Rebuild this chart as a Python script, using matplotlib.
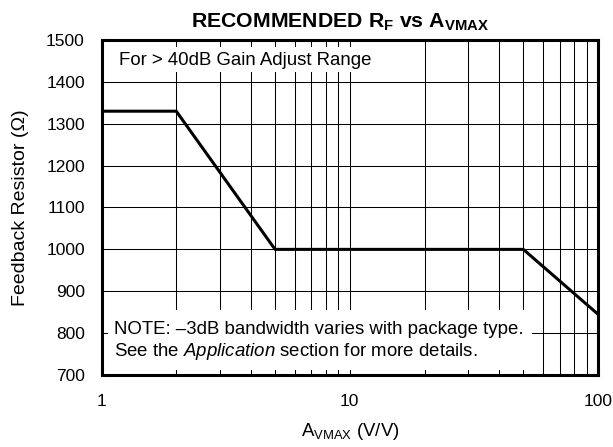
import matplotlib.pyplot as plt
from matplotlib.patches import Rectangle
from matplotlib.ticker import FixedLocator, NullFormatter

plt.rcParams['font.family'] = ['Liberation Sans', 'DejaVu Sans']
plt.rcParams['mathtext.fontset'] = 'custom'
plt.rcParams['mathtext.rm'] = 'Liberation Sans'
plt.rcParams['mathtext.it'] = 'Liberation Sans:italic'
plt.rcParams['mathtext.bf'] = 'Liberation Sans:bold'

#==============================

gain = [1, 2, 5, 50, 100]            # A_VMAX (V/V)
rf = [1330, 1330, 1000, 1000, 845]   # feedback resistor (ohm)

y_ticks = [700, 800, 900, 1000, 1100, 1200, 1300, 1400, 1500]
x_ticks = [1, 10, 100]
x_labels = ['1', '10', '100']
x_minor = [2, 3, 4, 5, 6, 7, 8, 9, 20, 30, 40, 50, 60, 70, 80, 90]

#==============================

fig = plt.figure(figsize=(6.13, 4.47), dpi=100)
ax = fig.add_axes([0.1656, 0.1611, 0.810, 0.7494])

ax.set_xscale('log')
ax.set_xlim(1, 100)
ax.set_ylim(700, 1500)

ax.set_xticks(x_ticks)
ax.set_xticklabels(x_labels)
ax.xaxis.set_minor_locator(FixedLocator(x_minor))
ax.xaxis.set_minor_formatter(NullFormatter())
ax.set_yticks(y_ticks)

ax.grid(True, which='both', axis='x', color='black', lw=0.75)
ax.grid(True, which='major', axis='y', color='black', lw=0.75)
ax.tick_params(which='both', length=0, labelsize=12.5)
ax.tick_params(axis='x', pad=14)
ax.tick_params(axis='y', pad=12)

ax.plot(gain, rf, color='black', lw=2.2, zorder=5)

for s in ax.spines.values():
    s.set_linewidth(2.2)
    s.set_zorder(6)

# white boxes behind the notes
ax.add_patch(Rectangle((0, 0.904), 0.631, 0.075, transform=ax.transAxes,
                       facecolor='white', edgecolor='none', zorder=3))
ax.add_patch(Rectangle((0.013, 0.015), 0.854, 0.179, transform=ax.transAxes,
                       facecolor='white', edgecolor='none', zorder=3))

ax.text(0.035, 0.940, 'For > 40dB Gain Adjust Range', transform=ax.transAxes,
        fontsize=13.4, va='center', ha='left', zorder=4)
ax.text(0.025, 0.137, 'NOTE: \u20133dB bandwidth varies with package type.',
        transform=ax.transAxes, fontsize=13.4, va='center', ha='left', zorder=4)
ax.text(0.025, 0.069, 'See the $\\mathit{Application}$ section for more details.',
        transform=ax.transAxes, fontsize=13.4, va='center', ha='left', zorder=4)

ax.set_title('RECOMMENDED R$_\\mathbf{F}$ vs A$_\\mathbf{VMAX}$', fontsize=15.3,
             fontweight='bold', pad=9, x=0.48)
ax.set_xlabel('A$_\\mathrm{VMAX}$ (V/V)', fontsize=13.4, labelpad=8)
ax.set_ylabel('Feedback Resistor (\u03a9)', fontsize=14, labelpad=12)

fig.savefig('out.png', dpi=100)
